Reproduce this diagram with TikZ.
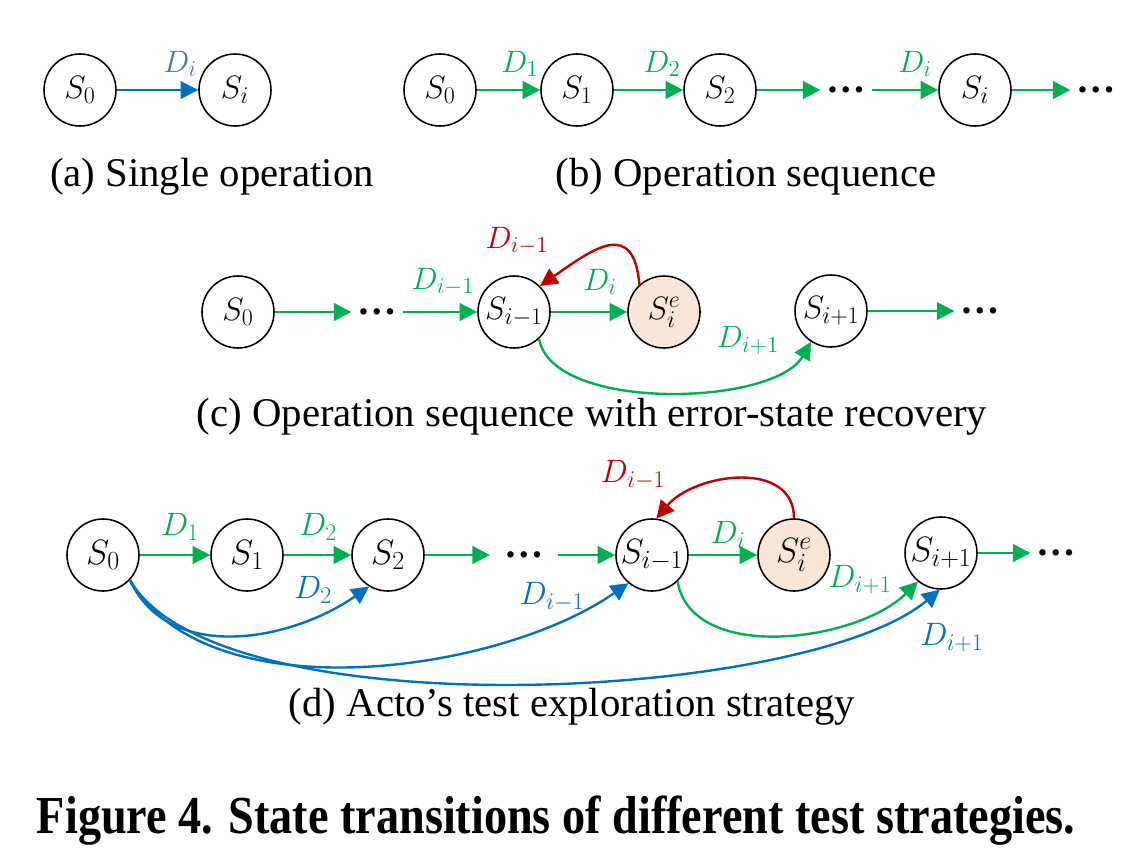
\RequirePackage{fix-cm}
\documentclass[tikz,border=0pt]{standalone}
\usepackage{fontspec}
\setmainfont{Liberation Serif}
\renewcommand{\defaultscriptratio}{.74}
\usetikzlibrary{arrows.meta}
\definecolor{opgreen}{HTML}{00B050}
\definecolor{opblue}{HTML}{0070C0}
\definecolor{lightblue}{HTML}{4472C4}
\definecolor{opred}{HTML}{C00000}
\definecolor{errfill}{HTML}{FBE5D6}
\tikzset{
  state/.style={circle, draw, line width=1.1pt, minimum size=1.8cm, inner sep=0pt, font=\fontsize{23}{27}\selectfont},
  errstate/.style={state, fill=errfill},
  bigstate/.style={state, font=\fontsize{25}{29}\selectfont},
  more/.style={inner sep=4pt, font=\fontsize{28}{30}\selectfont\bfseries},
  tr/.style={line width=1.7pt, -{Triangle[length=12.5pt,width=12.5pt]}},
  lbl/.style={inner sep=0pt, font=\fontsize{22}{25}\selectfont},
  lbld/.style={inner sep=0pt, font=\fontsize{23}{27}\selectfont},
  subcap/.style={inner sep=0pt, font=\fontsize{29}{34}\selectfont}
}
\begin{document}
\begin{tikzpicture}[x=0.025cm, y=-0.025cm]
    \useasboundingbox (0,0) rectangle (1131,861);

    % (a)
    \node [state] (S0a) at (80,90) {$S_0$};
    \node [state] (Sia) at (235,90) {$S_i$};
    \draw[tr, opblue] (S0a) -- (Sia);
    \node [lbl, text=lightblue] (Da) at (180,64) {$D_i$};
    \node [subcap] (capa) at (212,177) {(a) Single operation};

    % (b)
    \node [state] (S0b) at (440,90) {$S_0$};
    \node [state] (S1b) at (577,90) {$S_1$};
    \node [state] (S2b) at (720,90) {$S_2$};
    \node [more] (mb1) at (846,90) {…};
    \node [state] (Sib) at (975,90) {$S_i$};
    \node [more] (mb2) at (1096,90) {…};
    \draw[tr, opgreen] (S0b) -- (S1b);
    \draw[tr, opgreen] (S1b) -- (S2b);
    \draw[tr, opgreen] (S2b) -- (mb1);
    \draw[tr, opgreen] (mb1) -- (Sib);
    \draw[tr, opgreen] (Sib) -- (mb2);
    \node [lbl, text=opgreen] (D1b) at (520,64) {$D_1$};
    \node [lbl, text=opgreen] (D2b) at (662,64) {$D_2$};
    \node [lbl, text=opgreen] (Dib) at (915,64) {$D_i$};
    \node [subcap] (capb) at (746,177) {(b) Operation sequence};

    % (c)
    \node [state] (S0c) at (238,312) {$S_0$};
    \node [more] (mc1) at (377,312) {…};
    \node [state] (Sim1c) at (514,312) {$S_{i-1}$};
    \node [errstate] (Siec) at (664,312) {$S_i^e$};
    \node [state] (Sip1c) at (831,311) {$S_{i+1}$};
    \node [more] (mc2) at (980,311) {…};
    \draw[tr, opgreen] (S0c) -- (mc1);
    \draw[tr, opgreen] (mc1) -- (Sim1c);
    \draw[tr, opgreen] (Sim1c) -- (Siec);
    \draw[tr, opgreen] (Sip1c) -- (mc2);
    \draw[tr, opred] (Siec.132) to[out=95, in=35, looseness=1.7] (Sim1c.45);
    \draw[tr, opgreen] (Sim1c.-47) to[out=-80, in=-120, looseness=0.7] (Sip1c.-123);
    \node [lbl, text=opgreen] (Dim1c) at (443,282) {$D_{i-1}$};
    \node [lbl, text=opgreen] (Dic) at (600,282) {$D_i$};
    \node [lbl, text=opred] (Rc) at (517,241) {$D_{i-1}$};
    \node [lbl, text=opgreen] (Dip1c) at (748,340) {$D_{i+1}$};
    \node [subcap] (capc) at (592,417) {(c) Operation sequence with error-state recovery};

    % (d)
    \node [bigstate] (S0d) at (103,555) {$S_0$};
    \node [bigstate] (S1d) at (247,555) {$S_1$};
    \node [bigstate] (S2d) at (388,555) {$S_2$};
    \node [more, inner sep=10pt] (md1) at (524,555) {…};
    \node [bigstate] (Sim1d) at (652,555) {$S_{i-1}$};
    \node [bigstate, fill=errfill] (Sied) at (794,555) {$S_i^e$};
    \node [bigstate] (Sip1d) at (941,553) {$S_{i+1}$};
    \node [more] (md2) at (1056,553) {…};
    \draw[tr, opgreen] (S0d) -- (S1d);
    \draw[tr, opgreen] (S1d) -- (S2d);
    \draw[tr, opgreen] (S2d) -- (md1);
    \draw[tr, opgreen] (md1) -- (Sim1d);
    \draw[tr, opgreen] (Sim1d) -- (Sied);
    \draw[tr, opgreen] (Sip1d) -- (md2);
    \draw[tr, opred] (Sied.90) to[out=90, in=50, looseness=1.1] (Sim1d.83);
    \draw[tr, opgreen] (Sim1d.-46) to[out=-80, in=-135, looseness=0.9] (Sip1d.-129);
    \draw[tr, opblue] (S0d.-43) to[out=-65, in=-145] (S2d.-121);
    \draw[tr, opblue] (S0d.-43) to[out=-60, in=-145, looseness=0.8] (Sim1d.-130);
    \draw[tr, opblue] (S0d.-43) to[out=-60, in=-140, looseness=0.55] (Sip1d.-92);
    \node [lbld, text=opgreen] (D1d) at (180,527) {$D_1$};
    \node [lbld, text=opgreen] (D2d) at (318,527) {$D_2$};
    \node [lbld, text=opblue] (B2d) at (313,590) {$D_2$};
    \node [lbld, text=opblue] (Bim1d) at (552,597) {$D_{i-1}$};
    \node [lbld, text=opgreen] (Did) at (728,535) {$D_i$};
    \node [lbld, text=opred] (Rd) at (633,475) {$D_{i-1}$};
    \node [lbld, text=opgreen] (Dip1d) at (860,580) {$D_{i+1}$};
    \node [lbld, text=opblue] (Bip1d) at (952,638) {$D_{i+1}$};
    \node [subcap] (capd) at (572,707) {(d) Acto’s test exploration strategy};

    \node (figcap) at (556,821) {\fontsize{38}{44}\selectfont\bfseries\scalebox{0.865}[1]{Figure 4. State transitions of different test strategies.}};
\end{tikzpicture}
\end{document}
